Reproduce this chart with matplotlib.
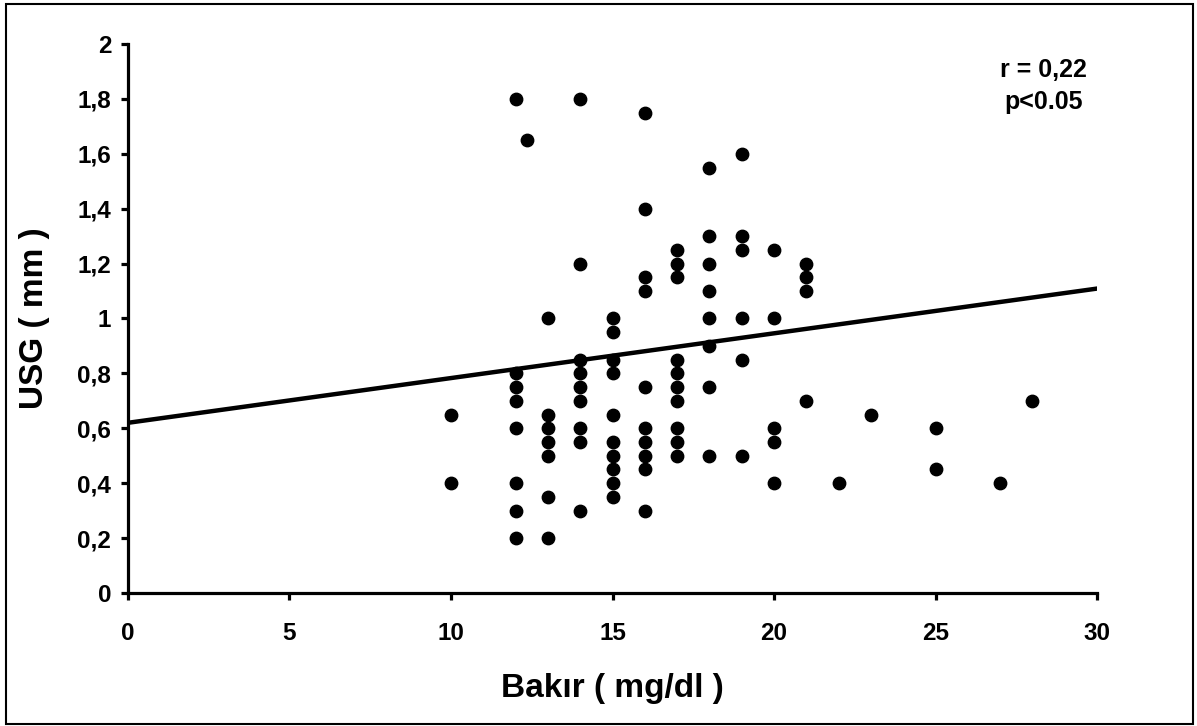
import matplotlib
matplotlib.use('Agg')
import matplotlib.pyplot as plt
from matplotlib.ticker import FuncFormatter
from matplotlib.patches import Rectangle

# Veriler: bakir (mg/dl) ve USG (mm)
bakir_10 = [10, 10]
usg_10 = [0.65, 0.40]
bakir_12 = [12] * 8
usg_12 = [1.80, 0.80, 0.75, 0.70, 0.60, 0.40, 0.30, 0.20]
bakir_12b = [12.35]
usg_12b = [1.65]
bakir_13 = [13] * 7
usg_13 = [1.00, 0.65, 0.60, 0.55, 0.50, 0.35, 0.20]
bakir_14 = [14] * 9
usg_14 = [1.80, 1.20, 0.85, 0.80, 0.75, 0.70, 0.60, 0.55, 0.30]
bakir_15 = [15] * 10
usg_15 = [1.00, 0.95, 0.85, 0.80, 0.65, 0.55, 0.50, 0.45, 0.40, 0.35]
bakir_16 = [16] * 10
usg_16 = [1.75, 1.40, 1.15, 1.10, 0.75, 0.60, 0.55, 0.50, 0.45, 0.30]
bakir_17 = [17] * 10
usg_17 = [1.25, 1.20, 1.15, 0.85, 0.80, 0.75, 0.70, 0.60, 0.55, 0.50]
bakir_18 = [18] * 8
usg_18 = [1.55, 1.30, 1.20, 1.10, 1.00, 0.90, 0.75, 0.50]
bakir_19 = [19] * 6
usg_19 = [1.60, 1.30, 1.25, 1.00, 0.85, 0.50]
bakir_20 = [20] * 5
usg_20 = [1.25, 1.00, 0.60, 0.55, 0.40]
bakir_21 = [21] * 4
usg_21 = [1.20, 1.15, 1.10, 0.70]
bakir_diger = [22, 23, 25, 25, 27, 28]
usg_diger = [0.40, 0.65, 0.60, 0.45, 0.40, 0.70]

bakir = (bakir_10 + bakir_12 + bakir_12b + bakir_13 + bakir_14 + bakir_15 + bakir_16
         + bakir_17 + bakir_18 + bakir_19 + bakir_20 + bakir_21 + bakir_diger)
usg = (usg_10 + usg_12 + usg_12b + usg_13 + usg_14 + usg_15 + usg_16
       + usg_17 + usg_18 + usg_19 + usg_20 + usg_21 + usg_diger)

# Regresyon dogrusu
kesisim = 0.62
egim = 0.0163
x_dogru = [0, 30]
y_dogru = [kesisim + egim * x for x in x_dogru]

plt.rcParams['font.family'] = ['Liberation Sans', 'DejaVu Sans']
plt.rcParams['font.weight'] = 'bold'

fig = plt.figure(figsize=(11.97, 7.26), dpi=100)
ax = fig.add_axes([0.1069, 0.1832, 0.8096, 0.7562])

ax.scatter(bakir, usg, s=80, color='black', zorder=3, clip_on=False)
ax.plot(x_dogru, y_dogru, color='black', linewidth=3.2, zorder=2)

ax.set_xlim(0, 30)
ax.set_ylim(0, 2)
ax.set_xticks([0, 5, 10, 15, 20, 25, 30])
ax.set_yticks([0, 0.2, 0.4, 0.6, 0.8, 1.0, 1.2, 1.4, 1.6, 1.8, 2.0])
ax.yaxis.set_major_formatter(FuncFormatter(lambda v, p: ('%g' % round(v, 2)).replace('.', ',')))

for s in ['top', 'right']:
    ax.spines[s].set_visible(False)
for s in ['left', 'bottom']:
    ax.spines[s].set_linewidth(2.3)

ax.tick_params(axis='both', direction='out', length=5, width=2.3, labelsize=17.5)
ax.tick_params(axis='x', pad=16)
ax.tick_params(axis='y', pad=7)
for lbl in ax.get_xticklabels() + ax.get_yticklabels():
    lbl.set_fontweight('bold')

ax.set_xlabel('Bakır ( mg/dl )', fontsize=24, fontweight='bold', labelpad=20)
ax.set_ylabel('USG ( mm )', fontsize=24, fontweight='bold', labelpad=20)

ax.text(0.945, 0.953, 'r = 0,22', transform=ax.transAxes, ha='center', va='center',
        fontsize=18, fontweight='bold')
ax.text(0.945, 0.894, 'p<0.05', transform=ax.transAxes, ha='center', va='center',
        fontsize=18, fontweight='bold')

# Dis cerceve
fig.patches.append(Rectangle((6 / 1197, 2 / 726), 1187 / 1197, 720 / 726,
                             transform=fig.transFigure, fill=False,
                             edgecolor='black', linewidth=1.5))

fig.savefig('out.png', dpi=100)
